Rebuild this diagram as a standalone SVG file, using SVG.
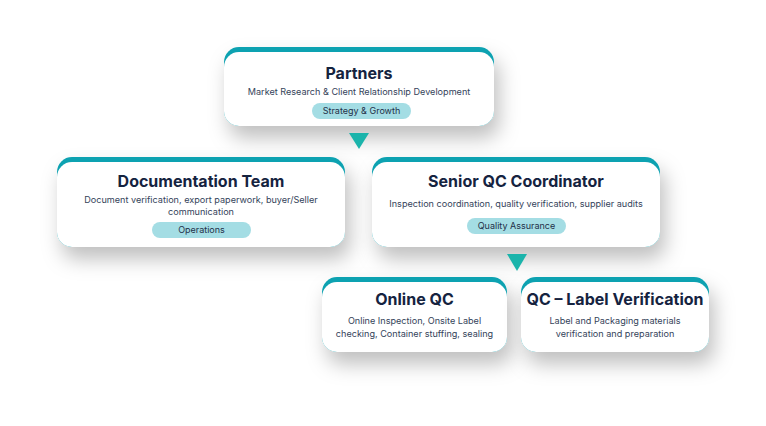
<svg xmlns="http://www.w3.org/2000/svg" width="766" height="426" viewBox="0 0 766 426">
  <defs>
    <filter id="sh" x="-25%" y="-40%" width="160%" height="200%">
      <feDropShadow dx="5" dy="12" stdDeviation="10" flood-color="#000" flood-opacity="0.25"/>
    </filter>
    <style>
      .top{fill:#11a2b1}
      .card{fill:#ffffff}
      .title{font-family:Inter,"Liberation Sans",sans-serif;font-weight:700;font-size:16px;fill:#15233f;text-anchor:middle}
      .sub{font-family:Inter,"Liberation Sans",sans-serif;font-size:9.1px;fill:#34435a;text-anchor:middle}
      .pill{fill:#a4dde4}
      .ptxt{font-family:Inter,"Liberation Sans",sans-serif;font-size:9px;fill:#1f3048;text-anchor:middle}
      .tri{fill:#1bb4ab}
    </style>
  </defs>
  <rect width="766" height="426" fill="#ffffff"/>

  <g id="partners">
    <g filter="url(#sh)">
      <rect class="top" x="224" y="47" width="270" height="79" rx="15"/>
      <rect class="card" x="224" y="52" width="270" height="74" rx="15"/>
    </g>
    <text class="title" x="359" y="79">Partners</text>
    <text class="sub" x="359" y="95">Market Research &amp; Client Relationship Development</text>
    <rect class="pill" x="312" y="103" width="99" height="16" rx="8"/>
    <text class="ptxt" x="361.5" y="114.2">Strategy &amp; Growth</text>
  </g>

  <g id="documentation">
    <g filter="url(#sh)">
      <rect class="top" x="57" y="157" width="288" height="90" rx="15"/>
      <rect class="card" x="57" y="162" width="288" height="85" rx="15"/>
    </g>
    <text class="title" x="201" y="187">Documentation Team</text>
    <text class="sub" x="201" y="203">Document verification, export paperwork, buyer/Seller</text>
    <text class="sub" x="201" y="215">communication</text>
    <rect class="pill" x="152" y="222" width="99" height="16" rx="8"/>
    <text class="ptxt" x="201.5" y="233.2">Operations</text>
  </g>

  <g id="senior-qc">
    <g filter="url(#sh)">
      <rect class="top" x="372" y="157" width="288" height="90" rx="15"/>
      <rect class="card" x="372" y="162" width="288" height="85" rx="15"/>
    </g>
    <text class="title" x="516" y="187">Senior QC Coordinator</text>
    <text class="sub" x="516" y="207">Inspection coordination, quality verification, supplier audits</text>
    <rect class="pill" x="467" y="218" width="99" height="16" rx="8"/>
    <text class="ptxt" x="516.5" y="229.2">Quality Assurance</text>
  </g>

  <g id="online-qc">
    <g filter="url(#sh)">
      <rect class="top" x="322" y="277" width="185" height="75" rx="15"/>
      <rect class="card" x="322" y="282" width="185" height="70" rx="15"/>
    </g>
    <text class="title" x="414.5" y="305">Online QC</text>
    <text class="sub" x="414.5" y="324">Online Inspection, Onsite Label</text>
    <text class="sub" x="414.5" y="337">checking, Container stuffing, sealing</text>
  </g>

  <g id="label-verification">
    <g filter="url(#sh)">
      <rect class="top" x="521" y="277" width="188" height="75" rx="15"/>
      <rect class="card" x="521" y="282" width="188" height="70" rx="15"/>
    </g>
    <text class="title" x="615" y="305">QC – Label Verification</text>
    <text class="sub" x="615" y="324">Label and Packaging materials</text>
    <text class="sub" x="615" y="337">verification and preparation</text>
  </g>

  <g id="connectors">
    <polygon class="tri" points="349,133 369,133 359,149"/>
    <polygon class="tri" points="507,254 527,254 517,271"/>
  </g>
</svg>
